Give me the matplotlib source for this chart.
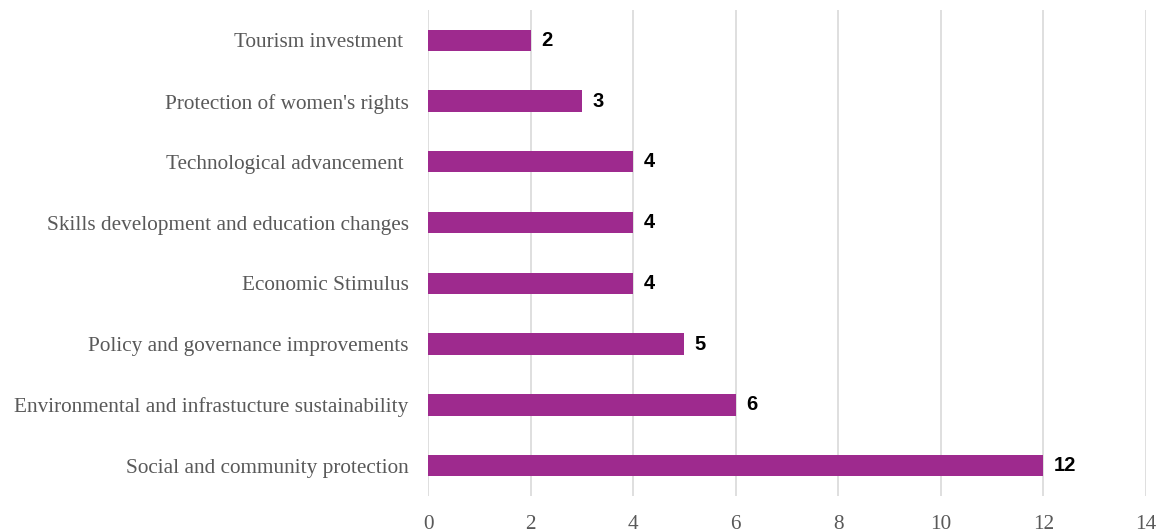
import matplotlib.pyplot as plt

categories = [
    "Social and community protection",
    "Environmental and infrastucture sustainability",
    "Policy and governance improvements",
    "Economic Stimulus",
    "Skills development and education changes",
    "Technological advancement ",
    "Protection of women's rights",
    "Tourism investment ",
]
counts = [12, 6, 5, 4, 4, 4, 3, 2]
xticks = [0, 2, 4, 6, 8, 10, 12, 14]

bar_color = "#9E2A8E"
text_gray = "#595959"

fig = plt.figure(figsize=(11.59, 5.31), dpi=100)
ax = fig.add_axes([0.3693, 0.0659, 0.6195, 0.9153])

pos = range(len(categories))
ax.barh(pos, counts, height=0.35, color=bar_color, zorder=3)

for y, v in zip(pos, counts):
    ax.text(v + 0.2, y, str(v), va="center", ha="left", fontsize=14.5,
            fontweight="bold", family="Liberation Sans", color="black")

ax.set_xlim(0, 14)
ax.set_ylim(-0.5, len(categories) - 0.5)
ax.set_xticks(xticks)
ax.set_yticks(list(pos))
ax.set_yticklabels(categories, family="Liberation Serif", fontsize=15.3, color=text_gray)
ax.set_xticklabels([str(t) for t in xticks], family="Liberation Serif", fontsize=15.3, color=text_gray)
ax.tick_params(length=0, pad=14, axis="y")
ax.tick_params(length=0, pad=14, axis="x")

ax.grid(axis="x", color="#d9d9d9", linewidth=1.2, zorder=0)
for s in ax.spines.values():
    s.set_visible(False)

fig.savefig("out.png", dpi=100)
